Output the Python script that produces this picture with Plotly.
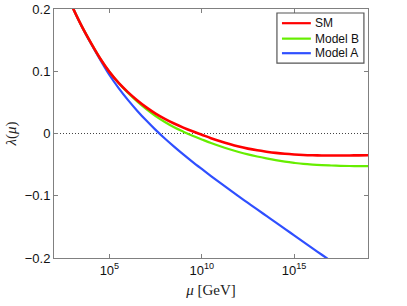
import plotly.graph_objects as go

# log10(mu / GeV) sample positions
log_mu = [2.5, 3.0, 3.5, 4.0, 4.5, 5.0, 5.5, 6.0, 6.5, 7.0, 7.5, 8.0, 8.5, 9.0, 9.5,
          10.0, 10.5, 11.0, 11.5, 12.0, 12.5, 13.0, 13.5, 14.0, 14.5, 15.0, 15.5,
          16.0, 16.5, 17.0, 17.5, 18.0, 18.5, 19.0]
sm = [0.236, 0.203, 0.1725, 0.1455, 0.1205, 0.099, 0.0812, 0.0665, 0.0535, 0.042,
      0.032, 0.0235, 0.016, 0.0095, 0.0035, -0.002, -0.0075, -0.0125, -0.017, -0.021,
      -0.0243, -0.027, -0.0292, -0.0311, -0.0326, -0.0337, -0.0345, -0.035, -0.0353,
      -0.0354, -0.0354, -0.0353, -0.0351, -0.0349]
model_b = [0.236, 0.203, 0.1725, 0.1455, 0.1205, 0.099, 0.0812, 0.0655, 0.0515, 0.039,
           0.028, 0.0185, 0.010, 0.003, -0.0035, -0.0095, -0.0153, -0.0205, -0.0253,
           -0.0297, -0.0336, -0.037, -0.040, -0.0428, -0.0452, -0.0472, -0.0489, -0.0500,
           -0.0508, -0.0514, -0.0519, -0.0522, -0.0524, -0.0525]
model_a = [0.236, 0.203, 0.1722, 0.1445, 0.1185, 0.094, 0.073, 0.054, 0.0367, 0.0207,
           0.0058, -0.008, -0.021, -0.0335, -0.0455, -0.057, -0.0683, -0.0794, -0.0903,
           -0.101, -0.1115, -0.122, -0.1324, -0.1427, -0.1532, -0.1636, -0.174, -0.1844,
           -0.1948, -0.2052, -0.2156, -0.226, -0.2364, -0.2468]

series_names = ["SM", "Model B", "Model A"]
series_colors = ["#ff0000", "#66ee00", "#2f4fff"]

x_tick_vals = [1e5, 1e10, 1e15]
x_tick_text = ["10<sup>5</sup>", "10<sup>10</sup>", "10<sup>15</sup>"]
y_tick_vals = [-0.2, -0.1, 0, 0.1, 0.2]
y_tick_text = ["\u22120.2", "\u22120.1", "0", "0.1", "0.2"]

mu = [10 ** v for v in log_mu]
values = {"SM": sm, "Model B": model_b, "Model A": model_a}
widths = {"SM": 2.6, "Model B": 2.2, "Model A": 2.2}

fig = go.Figure()
for name in ["Model A", "Model B", "SM"]:
    color = series_colors[series_names.index(name)]
    fig.add_trace(go.Scatter(x=mu, y=values[name], mode="lines", name=name,
                             showlegend=False,
                             line=dict(color=color, width=widths[name], shape="spline",
                                       smoothing=1.0)))

# zero reference line
fig.add_shape(type="line", xref="paper", yref="y", x0=0, x1=1, y0=0, y1=0,
              line=dict(color="#444444", width=1, dash="1px,2px"), layer="below")

# legend box (drawn in paper coordinates)
fig.add_shape(type="rect", xref="paper", yref="paper", x0=0.710, x1=0.987, y0=0.783, y1=0.984,
              line=dict(color="#555555", width=1.2), fillcolor="white", layer="above")
row_y = [0.943, 0.881, 0.8225]
for name, color, yy in zip(series_names, series_colors, row_y):
    fig.add_shape(type="line", xref="paper", yref="paper", x0=0.726, x1=0.818, y0=yy, y1=yy,
                  line=dict(color=color, width=2.2), layer="above")
    fig.add_annotation(x=0.824, y=yy, xref="paper", yref="paper", text=name, showarrow=False,
                       xanchor="left", yanchor="middle",
                       font=dict(family="Liberation Sans, Arial", size=12, color="#111111"))

axis_common = dict(showline=True, linecolor="#808080", linewidth=1, mirror="allticks",
                   ticks="inside", ticklen=4, tickcolor="#808080", showgrid=False,
                   zeroline=False, automargin=False,
                   tickfont=dict(family="Liberation Sans, Arial", size=13, color="#111111"))

fig.update_xaxes(type="log", range=[2, 19], tickvals=x_tick_vals, ticktext=x_tick_text,
                 title=dict(text="<i>μ</i> [GeV]",
                            font=dict(family="Liberation Serif, DejaVu Serif", size=15, color="#222222"),
                            standoff=7),
                 **axis_common)
fig.update_yaxes(range=[-0.2, 0.2], tickvals=y_tick_vals, ticktext=y_tick_text,
                 title=dict(text="<i>λ</i>(<i>μ</i>)",
                            font=dict(family="Liberation Serif, DejaVu Serif", size=15, color="#222222"),
                            standoff=4),
                 **axis_common)

fig.update_layout(
    width=407, height=306,
    margin=dict(l=54, r=39, t=9, b=48),
    paper_bgcolor="white", plot_bgcolor="white",
    showlegend=False,
)

# remove the default 8 px page margin so the figure sits at the window origin
fig.write_html("out.html",
               config={"displayModeBar": False, "staticPlot": True},
               post_script="document.body.style.margin='0';document.body.style.overflow='hidden';")
